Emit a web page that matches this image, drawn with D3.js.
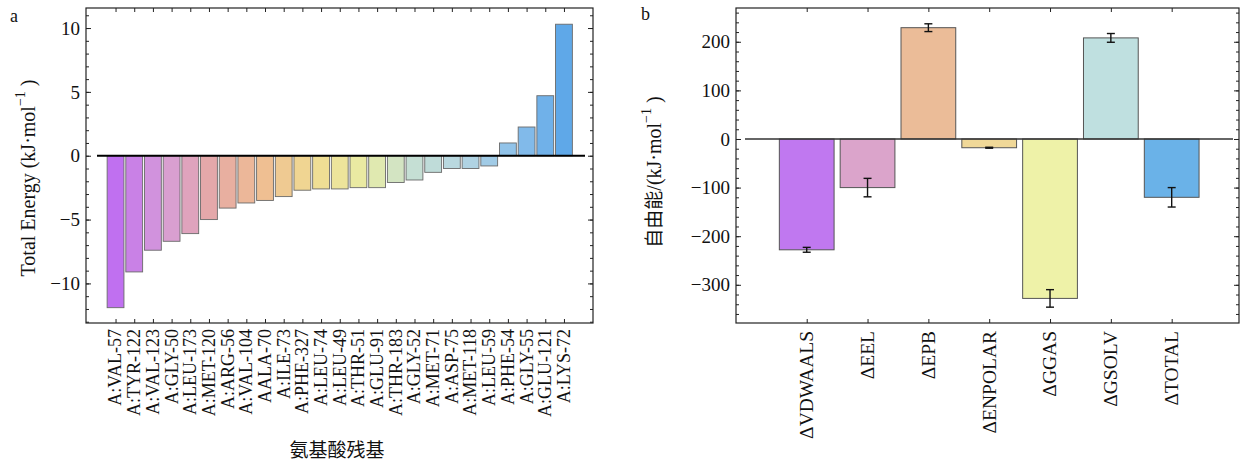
<!DOCTYPE html>
<html>
<head>
<meta charset="utf-8">
<script src="https://cdn.jsdelivr.net/npm/d3@7"></script>
<style>
  body { margin: 0; background: #fff; }
  text { font-family: "Liberation Serif", "Times New Roman", serif; fill: #111; }
  .cjk { font-family: "Noto Sans CJK SC", sans-serif; }
</style>
</head>
<body>
<div id="root"></div>
<script>
// panel a data
const residues = ['A:VAL-57', 'A:TYR-122', 'A:VAL-123', 'A:GLY-50', 'A:LEU-173', 'A:MET-120',
  'A:ARG-56', 'A:VAL-104', 'AALA-70', 'A:ILE-73', 'A:PHE-327', 'A:LEU-74', 'A:LEU-49',
  'A:THR-51', 'A:GLU-91', 'A:THR-183', 'A:GLY-52', 'A:MET-71', 'A:ASP-75', 'A:MET-118',
  'A:LEU-59', 'A:PHE-54', 'A:GLY-55', 'A:GLU-121', 'A:LYS-72'];
const residueEnergy = [-11.9, -9.1, -7.4, -6.7, -6.1, -5.0, -4.1, -3.7, -3.5, -3.2, -2.7, -2.6,
  -2.6, -2.5, -2.5, -2.1, -1.9, -1.3, -1.0, -1.0, -0.8, 1.0, 2.25, 4.7, 10.3];
const energyTicks = [-10, -5, 0, 5, 10];

// panel b data
const terms = ['ΔVDWAALS', 'ΔEEL', 'ΔEPB', 'ΔENPOLAR', 'ΔGGAS', 'ΔGSOLV', 'ΔTOTAL'];
const termValues = [-228, -100, 229, -18, -328, 208, -120];
const termErrors = [5, 19, 8, 1, 18, 9, 20];
const freeTicks = [-300, -200, -100, 0, 100, 200];

const W = 1240, H = 462;
const svg = d3.select('#root').append('svg')
  .attr('width', W).attr('height', H);

// gradient along the residue bars
const gradStops = ['#c070f0', '#d79dd6', '#e6a9a4', '#efbf92', '#f0dc92', '#e9eca4', '#c5dfd4', '#b5d6e2', '#8cc0ea', '#5fa8e8'];
const gradColor = d3.scaleLinear()
  .domain(d3.range(gradStops.length).map(i => i * (residues.length - 1) / (gradStops.length - 1)))
  .range(gradStops)
  .interpolate(d3.interpolateRgb);
const termColors = ['#c078f0', '#dba4cb', '#ebbc98', '#f0d898', '#eef2a8', '#bfe0e0', '#6ab2e8'];

function ylabel(g, x, y, prefix, cjk) {
  const t = g.append('text')
    .attr('transform', `translate(${x},${y}) rotate(-90)`)
    .attr('text-anchor', 'middle')
    .attr('font-size', 20);
  if (cjk) {
    t.append('tspan').attr('class', 'cjk').attr('font-size', 19).text(prefix);
    t.append('tspan').text('/(kJ·mol');
  } else {
    t.append('tspan').text(prefix + ' (kJ·mol');
  }
  t.append('tspan').attr('dy', -10).attr('font-size', 14).text('−1');
  t.append('tspan').attr('dy', 10).text(' )');
}

////// PANEL A //////
const A = {left: 86, right: 593, top: 8, bottom: 323};
const xA = d3.scaleBand().domain(residues).range([106.2, 573.3]).paddingInner(0.1).paddingOuter(0.05);
const yA = d3.scaleLinear().domain([-13.1, 11.57]).range([A.bottom, A.top]);

const gA = svg.append('g');

gA.selectAll('rect.bar')
  .data(residues)
  .enter()
    .append('rect')
    .attr('class', 'bar')
    .attr('x', d => xA(d))
    .attr('width', xA.bandwidth())
    .attr('y', (d, i) => yA(Math.max(0, residueEnergy[i])))
    .attr('height', (d, i) => Math.abs(yA(residueEnergy[i]) - yA(0)))
    .attr('fill', (d, i) => gradColor(i))
    .attr('stroke', '#6a6a6a')
    .attr('stroke-width', 0.9);

gA.append('line')
  .attr('x1', 97).attr('x2', 585)
  .attr('y1', yA(0)).attr('y2', yA(0))
  .attr('stroke', '#000').attr('stroke-width', 2.2);

// frame
gA.append('rect')
  .attr('x', A.left).attr('y', A.top)
  .attr('width', A.right - A.left).attr('height', A.bottom - A.top)
  .attr('fill', 'none').attr('stroke', '#222').attr('stroke-width', 1.2);

// y axis (inward ticks)
gA.append('g')
  .attr('transform', `translate(${A.left},0)`)
  .call(d3.axisRight(yA).tickValues(energyTicks).tickSize(5).tickFormat(''))
  .call(g => g.select('.domain').remove());
gA.append('g')
  .attr('transform', `translate(${A.left},0)`)
  .call(d3.axisRight(yA).tickValues(d3.range(-13, 12, 1)).tickSize(3).tickFormat(''))
  .call(g => g.select('.domain').remove());
gA.append('g')
  .attr('transform', `translate(${A.right},0)`)
  .call(d3.axisLeft(yA).tickValues(energyTicks).tickSize(5).tickFormat(''))
  .call(g => g.select('.domain').remove());
gA.append('g')
  .attr('transform', `translate(${A.right},0)`)
  .call(d3.axisLeft(yA).tickValues(d3.range(-13, 12, 1)).tickSize(3).tickFormat(''))
  .call(g => g.select('.domain').remove());
gA.selectAll('.energy-label')
  .data(energyTicks)
  .enter()
    .append('text')
    .attr('x', A.left - 6)
    .attr('y', d => yA(d))
    .attr('dy', '0.35em')
    .attr('text-anchor', 'end')
    .attr('font-size', 19)
    .text(d => d < 0 ? '−' + Math.abs(d) : d);

// top & bottom ticks
gA.append('g')
  .attr('transform', `translate(${xA.bandwidth() / 2},${A.top})`)
  .call(d3.axisBottom(d3.scaleIdentity()).tickValues(residues.map(r => xA(r))).tickSize(4).tickFormat(''))
  .call(g => g.select('.domain').remove());
gA.append('g')
  .attr('transform', `translate(${xA.bandwidth() / 2},${A.bottom})`)
  .call(d3.axisTop(d3.scaleIdentity()).tickValues(residues.map(r => xA(r))).tickSize(4).tickFormat(''))
  .call(g => g.select('.domain').remove());

gA.selectAll('.res-label')
  .data(residues)
  .enter()
    .append('text')
    .attr('transform', d => `translate(${xA(d) + xA.bandwidth() / 2},${A.bottom + 6}) rotate(-90)`)
    .attr('text-anchor', 'end')
    .attr('dy', '0.33em')
    .attr('font-size', 18)
    .text(d => d);

gA.append('text')
  .attr('class', 'cjk')
  .attr('x', 337).attr('y', 457)
  .attr('text-anchor', 'middle')
  .attr('font-size', 19)
  .text('氨基酸残基');

ylabel(gA, 35, 178, 'Total Energy', false);

gA.append('text').attr('x', 10).attr('y', 22).attr('font-size', 18).text('a');

////// PANEL B //////
const B = {left: 736, right: 1239, top: 8, bottom: 323};
const xB = d3.scaleBand().domain(terms).range([776.3, 1202.1]).paddingInner(0.1).paddingOuter(0.05);
const yB = d3.scaleLinear().domain([-378.6, 269.5]).range([B.bottom, B.top]);

const gB = svg.append('g');

gB.selectAll('rect.bar')
  .data(terms)
  .enter()
    .append('rect')
    .attr('class', 'bar')
    .attr('x', d => xB(d))
    .attr('width', xB.bandwidth())
    .attr('y', (d, i) => yB(Math.max(0, termValues[i])))
    .attr('height', (d, i) => Math.abs(yB(termValues[i]) - yB(0)))
    .attr('fill', (d, i) => termColors[i])
    .attr('stroke', '#555')
    .attr('stroke-width', 1);

// error bars
const err = gB.selectAll('g.err')
  .data(terms)
  .enter()
    .append('g')
    .attr('class', 'err')
    .attr('stroke', '#111')
    .attr('stroke-width', 1.4);
err.append('line')
  .attr('x1', d => xB(d) + xB.bandwidth() / 2).attr('x2', d => xB(d) + xB.bandwidth() / 2)
  .attr('y1', (d, i) => yB(termValues[i] - termErrors[i]))
  .attr('y2', (d, i) => yB(termValues[i] + termErrors[i]));
[-1, 1].forEach(s => {
  err.append('line')
    .attr('x1', d => xB(d) + xB.bandwidth() / 2 - 4).attr('x2', d => xB(d) + xB.bandwidth() / 2 + 4)
    .attr('y1', (d, i) => yB(termValues[i] + s * termErrors[i]))
    .attr('y2', (d, i) => yB(termValues[i] + s * termErrors[i]));
});

gB.append('line')
  .attr('x1', 745).attr('x2', 1233)
  .attr('y1', yB(0)).attr('y2', yB(0))
  .attr('stroke', '#333').attr('stroke-width', 1.5);

gB.append('rect')
  .attr('x', B.left).attr('y', B.top)
  .attr('width', B.right - B.left).attr('height', B.bottom - B.top)
  .attr('fill', 'none').attr('stroke', '#222').attr('stroke-width', 1.2);

gB.append('g')
  .attr('transform', `translate(${B.left},0)`)
  .call(d3.axisRight(yB).tickValues(freeTicks).tickSize(5).tickFormat(''))
  .call(g => g.select('.domain').remove());
gB.append('g')
  .attr('transform', `translate(${B.left},0)`)
  .call(d3.axisRight(yB).tickValues(d3.range(-360, 261, 20)).tickSize(3).tickFormat(''))
  .call(g => g.select('.domain').remove());
gB.append('g')
  .attr('transform', `translate(${B.right},0)`)
  .call(d3.axisLeft(yB).tickValues(freeTicks).tickSize(5).tickFormat(''))
  .call(g => g.select('.domain').remove());
gB.append('g')
  .attr('transform', `translate(${B.right},0)`)
  .call(d3.axisLeft(yB).tickValues(d3.range(-360, 261, 20)).tickSize(3).tickFormat(''))
  .call(g => g.select('.domain').remove());
gB.selectAll('.free-label')
  .data(freeTicks)
  .enter()
    .append('text')
    .attr('x', B.left - 6)
    .attr('y', d => yB(d))
    .attr('dy', '0.35em')
    .attr('text-anchor', 'end')
    .attr('font-size', 19)
    .text(d => d < 0 ? '−' + Math.abs(d) : d);

gB.append('g')
  .attr('transform', `translate(${xB.bandwidth() / 2},${B.top})`)
  .call(d3.axisBottom(d3.scaleIdentity()).tickValues(terms.map(t => xB(t))).tickSize(4).tickFormat(''))
  .call(g => g.select('.domain').remove());
gB.append('g')
  .attr('transform', `translate(${xB.bandwidth() / 2},${B.bottom})`)
  .call(d3.axisTop(d3.scaleIdentity()).tickValues(terms.map(t => xB(t))).tickSize(4).tickFormat(''))
  .call(g => g.select('.domain').remove());

gB.selectAll('.term-label')
  .data(terms)
  .enter()
    .append('text')
    .attr('transform', d => `translate(${xB(d) + xB.bandwidth() / 2},${B.bottom + 8}) rotate(-90)`)
    .attr('text-anchor', 'end')
    .attr('dy', '0.33em')
    .attr('font-size', 19.5)
    .text(d => d);

ylabel(gB, 661, 172, '自由能', true);

gB.append('text').attr('x', 641).attr('y', 20).attr('font-size', 18).text('b');

svg.selectAll('.tick line').attr('stroke', '#222');
</script>
</body>
</html>
